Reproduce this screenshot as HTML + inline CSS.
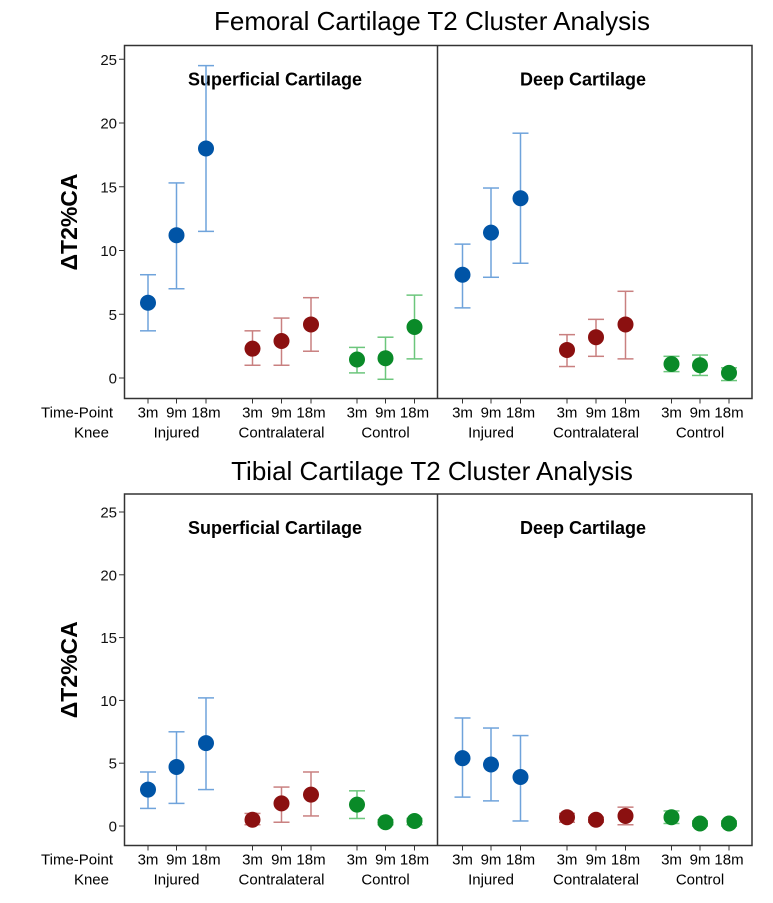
<!DOCTYPE html>
<html><head><meta charset="utf-8"><style>
body{margin:0;background:#fff;}
svg text{font-family:"Liberation Sans",sans-serif;}
</style></head><body>
<svg id="s" width="773" height="898" xmlns="http://www.w3.org/2000/svg"></svg>
<script>
const tickVals=[0,5,10,15,20,25];
const timeLabels=["3m","9m","18m"];
const kneeLabels=["Injured","Contralateral","Control"];
const colors=["#0054a6","#8b1010","#0a8a28"];
const errColors=["#6fa3db","#c98080","#6cc67c"];
// femoral superficial
const femSupMean=[5.9,11.2,18.0,2.3,2.9,4.2,1.45,1.55,4.0];
const femSupLo=[3.7,7.0,11.5,1.0,1.0,2.1,0.4,-0.1,1.5];
const femSupHi=[8.1,15.3,24.5,3.7,4.7,6.3,2.4,3.2,6.5];
// femoral deep
const femDeepMean=[8.1,11.4,14.1,2.2,3.2,4.2,1.1,1.0,0.4];
const femDeepLo=[5.5,7.9,9.0,0.9,1.7,1.5,0.5,0.2,-0.2];
const femDeepHi=[10.5,14.9,19.2,3.4,4.6,6.8,1.7,1.8,0.8];
// tibial superficial
const tibSupMean=[2.9,4.7,6.6,0.5,1.8,2.5,1.7,0.3,0.4];
const tibSupLo=[1.4,1.8,2.9,0.1,0.3,0.8,0.6,0.1,0.1];
const tibSupHi=[4.3,7.5,10.2,1.0,3.1,4.3,2.8,0.5,0.6];
// tibial deep
const tibDeepMean=[5.4,4.9,3.9,0.7,0.5,0.8,0.7,0.2,0.2];
const tibDeepLo=[2.3,2.0,0.4,0.3,0.3,0.1,0.2,0.0,0.0];
const tibDeepHi=[8.6,7.8,7.2,1.0,0.7,1.5,1.2,0.4,0.4];

const NS="http://www.w3.org/2000/svg";
const svg=document.getElementById('s');
function mk(tag,attrs,parent,text){const e=document.createElementNS(NS,tag);for(const k in attrs)e.setAttribute(k,attrs[k]);if(text!==undefined)e.textContent=text;(parent||svg).appendChild(e);return e;}

const leftX=[148,176.5,206,252.5,281.5,311,357,385.5,414.5];
function xPos(panel,i){return leftX[i]+panel*314.5;}

function drawChart(cfg){
  const g=mk('g',{});
  
  
  const y=v=>cfg.y0-v*cfg.ppu;
  const t=mk('text',{x:432,y:cfg.titleY,'font-size':26,'text-anchor':'middle',fill:'#000'},g,cfg.title);
  
  const box=mk('rect',{x:124.5,y:cfg.top,width:627.5,height:cfg.bottom-cfg.top,fill:'none',stroke:'#333','stroke-width':1.5},g);
  
  const dv=mk('line',{x1:437.5,x2:437.5,y1:cfg.top,y2:cfg.bottom,stroke:'#333','stroke-width':1.5},g);
  
  tickVals.forEach(v=>{
    const tk=mk('line',{x1:119,x2:124.5,y1:y(v),y2:y(v),stroke:'#333'},g);
    
    const tl=mk('text',{x:117,y:y(v)+5.5,'font-size':15,'text-anchor':'end',fill:'#111'},g,String(v));
    
  });
  const at=mk('text',{x:0,y:0,'font-size':23,'font-weight':'bold','text-anchor':'middle',transform:`translate(77,${(cfg.top+cfg.bottom)/2}) rotate(-90)`},g,'ΔT2%CA');
  
  const r1=mk('text',{x:113,y:cfg.bottom+19,'font-size':15,'text-anchor':'end'},g,'Time-Point');
  
  const r2=mk('text',{x:109,y:cfg.bottom+39,'font-size':15,'text-anchor':'end'},g,'Knee');
  
  ['Superficial Cartilage','Deep Cartilage'].forEach((lab,p)=>{
    const pl=mk('text',{x:p?583:275,y:cfg.top+40,'font-size':18,'font-weight':'bold','text-anchor':'middle'},g,lab);
    
  });
  cfg.series.forEach((s,p)=>{
    for(let i=0;i<9;i++){
      const x=xPos(p,i),grp=Math.floor(i/3);
      const tk=mk('line',{x1:x,x2:x,y1:cfg.bottom,y2:cfg.bottom+5,stroke:'#333'},g);
      
      const xl=mk('text',{x:x,y:cfg.bottom+19,'font-size':15,'text-anchor':'middle'},g,timeLabels[i%3]);
      
      if(i%3===1){
        const kl=mk('text',{x:x,y:cfg.bottom+39,'font-size':15,'text-anchor':'middle'},g,kneeLabels[grp]);
        
      }
      const ec=errColors[grp];
      const eb=mk('g',{stroke:ec,'stroke-width':1.5},g);
      
      mk('line',{x1:x,x2:x,y1:y(s.lo[i]),y2:y(s.hi[i])},eb);
      mk('line',{x1:x-8,x2:x+8,y1:y(s.lo[i]),y2:y(s.lo[i])},eb);
      mk('line',{x1:x-8,x2:x+8,y1:y(s.hi[i]),y2:y(s.hi[i])},eb);
      const c=mk('circle',{cx:x,cy:y(s.mean[i]),r:8,fill:colors[grp]},g);
      
    }
  });
}
drawChart({name:'femoral-chart',title:'Femoral Cartilage T2 Cluster Analysis',titleY:30,top:45.5,bottom:398.5,y0:378,ppu:12.75,
  series:[{mean:femSupMean,lo:femSupLo,hi:femSupHi},{mean:femDeepMean,lo:femDeepLo,hi:femDeepHi}]});
drawChart({name:'tibial-chart',title:'Tibial Cartilage T2 Cluster Analysis',titleY:480,top:494,bottom:845.5,y0:826,ppu:12.56,
  series:[{mean:tibSupMean,lo:tibSupLo,hi:tibSupHi},{mean:tibDeepMean,lo:tibDeepLo,hi:tibDeepHi}]});
</script>
</body></html>
